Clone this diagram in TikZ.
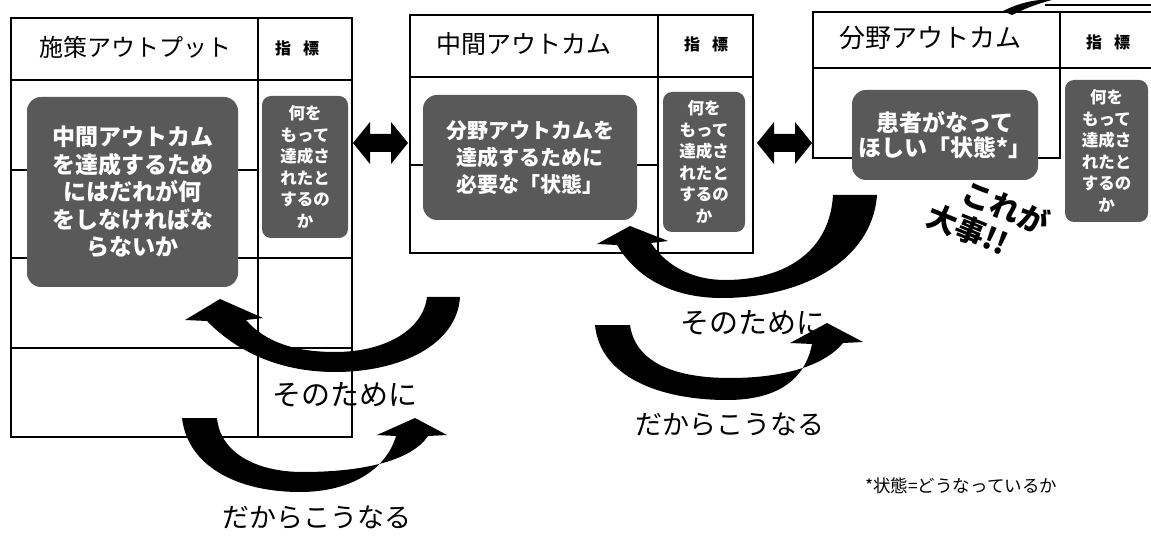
\documentclass[tikz,border=0pt]{standalone}
\usepackage{fontspec}
\setmainfont{Noto Sans CJK JP}
\begin{document}
\begin{tikzpicture}[x=1pt,y=-1pt,
  tbl/.style={line width=2.2pt, black, line cap=rect},
  bigbox/.style={rounded corners=14pt, fill=black!65, text=white, align=center, inner sep=0pt},
  smallbox/.style={rounded corners=9pt, fill=black!65, text=white, align=center, inner sep=0pt,
    font=\fontsize{16.5}{21.5}\selectfont\bfseries, minimum width=86pt, minimum height=142pt},
  hdr/.style={inner sep=0pt},
  idx/.style={inner sep=0pt, font=\fontsize{16}{16}\selectfont\bfseries},
  lbl/.style={inner sep=0pt},
  blockarrow/.style={fill=black}]
\useasboundingbox (0,0) rectangle (1151,537);

% ---------- table 1 ----------
\draw[tbl] (11,18) rectangle (352,437);
\draw[tbl] (258,18) -- (258,437);
\draw[tbl] (11,80) -- (352,80);
\draw[tbl] (11,170) -- (258,170);
\draw[tbl] (11,258) -- (352,258);
\draw[tbl] (11,348) -- (352,348);

% ---------- table 2 ----------
\draw[tbl] (410,15) rectangle (753,253);
\draw[tbl] (658,15) -- (658,253);
\draw[tbl] (410,77) -- (753,77);
\draw[tbl] (410,165) -- (658,165);

% ---------- table 3 ----------
\draw[tbl] (1151,12) -- (813,12) -- (813,158) -- (1060,158);
\draw[tbl] (1060,12) -- (1060,158);
\draw[tbl] (813,68) -- (1151,68);

% fragment at top right
\fill (1003,11) .. controls (1015,5) and (1028,1) .. (1040,0) -- (1052,0) .. controls (1036,4) and (1022,10) .. (1012,15) -- cycle;
\draw[line width=1.5pt] (1045,5) -- (1151,5);

% ---------- headers ----------
\node[hdr, font=\fontsize{24}{24}\selectfont] (h1) at (135,47) {施策アウトプット};
\node[idx] (i1) at (297,48) {指\hspace{12pt}標};
\node[hdr, font=\fontsize{25}{25}\selectfont] (h2) at (524,44) {中間アウトカム};
\node[idx] (i2) at (706,44) {指\hspace{12pt}標};
\node[hdr, font=\fontsize{26}{26}\selectfont] (h3) at (930,38) {分野アウトカム};
\node[idx] (i3) at (1108,42) {指\hspace{12pt}標};

% ---------- boxes ----------
\node[bigbox, minimum width=211pt, minimum height=190pt, font=\fontsize{23}{27.5}\selectfont\bfseries]
  (b1) at (132.5,192) {中間アウトカム\\を達成するため\\にはだれが何\\をしなければな\\らないか};
\node[smallbox] (s1) at (305,167) {何を\\もって\\達成さ\\れたと\\するの\\か};

\node[bigbox, minimum width=214pt, minimum height=125pt, font=\fontsize{21}{27}\selectfont\bfseries]
  (b2) at (530,157.5) {分野アウトカムを\\達成するために\\必要な「状態」};
\node[smallbox, minimum width=82pt, minimum height=140pt] (s2) at (704,162) {何を\\もって\\達成さ\\れたと\\するの\\か};

\node[bigbox, minimum width=186pt, minimum height=90pt, font=\fontsize{23}{25}\selectfont\bfseries]
  (b3) at (945,135) {患者がなって\\ほしい「状態*」};
\node[smallbox, minimum width=83pt, minimum height=142pt] (s3) at (1106.5,151) {何を\\もって\\達成さ\\れたと\\するの\\か};

% ---------- double arrows ----------
\fill[blockarrow] (353,143) -- (370,122) -- (370,134) -- (391,134) -- (391,122) -- (408,143)
  -- (391,164) -- (391,152) -- (370,152) -- (370,164) -- cycle;
\fill[blockarrow] (757,143) -- (774,122) -- (774,134) -- (795,134) -- (795,122) -- (812,143)
  -- (795,164) -- (795,152) -- (774,152) -- (774,164) -- cycle;

% ---------- curved arrows ----------
\fill[blockarrow] (460,297) .. controls (457,345) and (400,372) .. (335,372)
  .. controls (285,372) and (240,355) .. (207,321) -- (185,320) -- (220,299) -- (263,318) -- (246,320)
  .. controls (265,342) and (295,352) .. (335,352) .. controls (385,352) and (423,330) .. (427,297) -- cycle;

\fill[blockarrow] (182,418) .. controls (188,468) and (240,492) .. (300,492)
  .. controls (350,492) and (386,470) .. (396,436) -- (377,435) -- (415,418) -- (447,435) -- (428,436)
  .. controls (412,460) and (365,472) .. (303,472) .. controls (255,472) and (220,452) .. (217,418) -- cycle;

\fill[blockarrow] (877,195) .. controls (872,262) and (800,298) .. (722,298)
  .. controls (675,298) and (638,280) .. (617,245) -- (597,244) -- (630,226) -- (668,241) -- (651,243)
  .. controls (668,268) and (695,280) .. (725,280) .. controls (787,280) and (830,250) .. (833,195) -- cycle;

\fill[blockarrow] (595,325) .. controls (600,377) and (660,400) .. (727,400)
  .. controls (777,400) and (805,380) .. (812,344) -- (790,343) -- (827,323) -- (863,342) -- (843,343)
  .. controls (825,365) and (785,378) .. (730,378) .. controls (670,378) and (635,360) .. (630,325) -- cycle;

% ---------- labels ----------
\node[lbl, font=\fontsize{29}{29}\selectfont] (l1) at (345,395) {そのために};
\node[lbl, font=\fontsize{27}{27}\selectfont] (l2) at (317,518) {だからこうなる};
\node[lbl, font=\fontsize{29}{29}\selectfont] (l3) at (753,323) {そのために};
\node[lbl, font=\fontsize{27}{27}\selectfont] (l4) at (730,425) {だからこうなる};
\node[lbl, font=\fontsize{17.5}{17.5}\selectfont] (note) at (961,486) {*状態=どうなっているか};

\node[lbl, rotate=-22, align=left, font=\fontsize{30}{34}\selectfont\bfseries] (imp) at (988,219)
  {\hspace*{24pt}これが\\大事!!};
\end{tikzpicture}
\end{document}
